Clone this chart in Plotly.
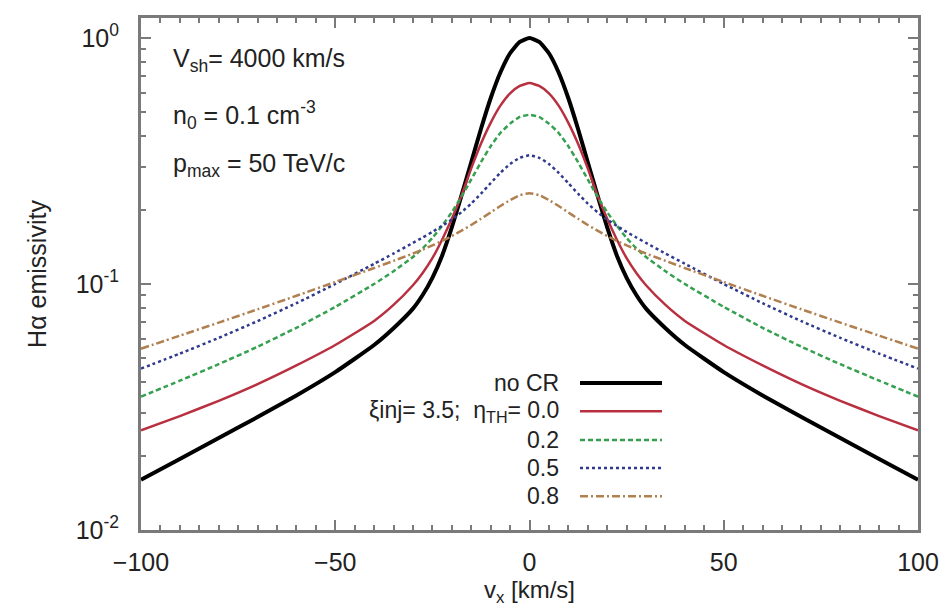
import plotly.graph_objects as go

# velocity grid, left half (the profiles are symmetric about v_x = 0)
vx_left = [-100, -90, -80, -70, -60, -50, -40, -35, -30, -27.5, -25, -22.5, -20, -17.5, -15, -12.5, -10, -7.5, -5, -2.5, 0]
vx = vx_left + [-v for v in reversed(vx_left[:-1])]

no_cr_left = [0.0160, 0.01945, 0.02366, 0.02877, 0.03524, 0.04385, 0.05649, 0.0661, 0.0794, 0.0902, 0.1059, 0.1303, 0.1698, 0.2291, 0.3126, 0.4266, 0.5689, 0.7244, 0.8670, 0.9638, 1.0000]
eta00_left = [0.02541, 0.02904, 0.03350, 0.03917, 0.04667, 0.05649, 0.07079, 0.08222, 0.09886, 0.1109, 0.1274, 0.1514, 0.1841, 0.2291, 0.2951, 0.3715, 0.4519, 0.5309, 0.5957, 0.6383, 0.6561]
eta02_left = [0.03483, 0.04046, 0.04721, 0.05559, 0.06637, 0.08072, 0.1000, 0.1127, 0.1288, 0.1396, 0.1538, 0.1726, 0.1959, 0.2265, 0.2661, 0.3126, 0.3631, 0.4111, 0.4487, 0.4775, 0.4875]
eta05_left = [0.04529, 0.05212, 0.06039, 0.07063, 0.08356, 0.1000, 0.1208, 0.1330, 0.1469, 0.1545, 0.1629, 0.1722, 0.1828, 0.1959, 0.2123, 0.2328, 0.2570, 0.2831, 0.3076, 0.3258, 0.3334]
eta08_left = [0.05458, 0.06166, 0.06966, 0.07889, 0.08954, 0.1019, 0.1161, 0.1242, 0.1330, 0.1380, 0.1435, 0.1496, 0.1567, 0.1648, 0.1738, 0.1841, 0.1954, 0.2075, 0.2193, 0.2296, 0.2339]

def full(left):
    return left + list(reversed(left[:-1]))

series_names = ["no CR", "0.0", "0.2", "0.5", "0.8"]
series_vals = [full(no_cr_left), full(eta00_left), full(eta02_left), full(eta05_left), full(eta08_left)]
series_colors = ["#000000", "#b83040", "#35a04f", "#2f3a8c", "#b08050"]
series_dash = ["solid", "solid", "5px,3px", "dot", "8px,3px,2px,3px"]
series_width = [4, 2.5, 2.5, 2.5, 2.5]

x_ticks = [-100, -50, 0, 50, 100]
y_ticks = [0.01, 0.1, 1]
y_ticktext = ["10<sup>-2</sup>", "10<sup>-1</sup>", "10<sup>0</sup>"]
y_minor = [m * d for d in (0.01, 0.1) for m in range(2, 10)]

legend_labels = ["no CR", "\u03beinj= 3.5;  \u03b7<sub>TH</sub>= 0.0", "0.2", "0.5", "0.8"]

fig = go.Figure()
for name, vals, col, dash, w in zip(series_names, series_vals, series_colors, series_dash, series_width):
    fig.add_trace(go.Scatter(x=vx, y=vals, mode="lines", name=name,
                             line=dict(color=col, dash=dash, width=w, shape="spline", smoothing=0.5),
                             showlegend=False))

FAM = "Liberation Sans, Arial, sans-serif"
font = dict(family=FAM, size=25, color="#222222")
legfont = dict(family=FAM, size=23, color="#222222")
axcol = "#7a7a7a"

fig.update_layout(
    width=952, height=609,
    margin=dict(l=133, r=42, t=10, b=87),
    paper_bgcolor="white", plot_bgcolor="white",
    font=font,
    xaxis=dict(range=[-100, 100], tickvals=x_ticks, ticks="inside", ticklen=10, tickwidth=1.5,
               tickcolor=axcol, showline=True, linecolor=axcol, linewidth=3, mirror="allticks",
               showgrid=False, zeroline=False, ticklabelstandoff=8, automargin=False,
               minor=dict(ticks="inside", dtick=5, ticklen=5, tickcolor=axcol, tickwidth=1.5),
               title=dict(text="v<sub>x</sub> [km/s]", font=dict(family=FAM, size=24, color="#222222"), standoff=0),
               tickfont=font),
    yaxis=dict(type="log", range=[-2, 0.0813], tickvals=y_ticks, ticktext=y_ticktext,
               ticks="inside", ticklen=10, tickwidth=1.5, tickcolor=axcol,
               showline=True, linecolor=axcol, linewidth=3, mirror="allticks",
               showgrid=False, zeroline=False, ticklabelstandoff=14, automargin=False,
               minor=dict(ticks="inside", tickvals=y_minor, ticklen=5, tickcolor=axcol, tickwidth=1.5),
               title=dict(text="H\u03b1 emissivity", font=font, standoff=22),
               tickfont=font),
)

# parameter annotations
info = ["V<sub>sh</sub>= 4000 km/s", "n<sub>0</sub> = 0.1 cm<sup>-3</sup>", "p<sub>max</sub> = 50 TeV/c"]
info_y = [0.918, 0.811, 0.713]
for t, yy in zip(info, info_y):
    fig.add_annotation(text=t, xref="paper", yref="paper", x=0.0386, y=yy, xanchor="left",
                       yanchor="middle", showarrow=False, font=font)

# legend (text right-aligned, key lines to the right)
leg_y = [0.287, 0.232, 0.176, 0.121, 0.066]
for lab, yy, col, dash, w in zip(legend_labels, leg_y, series_colors, series_dash, series_width):
    fig.add_annotation(text=lab, xref="paper", yref="paper", x=0.5405, y=yy, xanchor="right",
                       yanchor="middle", showarrow=False, font=legfont)
    fig.add_shape(type="line", xref="paper", yref="paper", x0=0.565, x1=0.6705, y0=yy, y1=yy,
                  line=dict(color=col, dash=dash, width=w))

fig.write_html("out.html")
